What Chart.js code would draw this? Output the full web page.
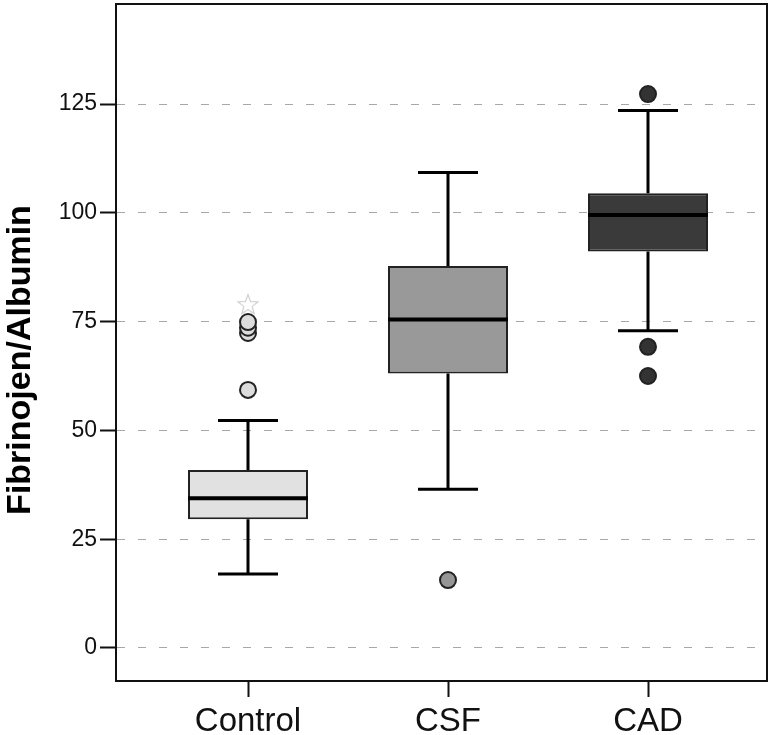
<!DOCTYPE html>
<html>
<head>
<meta charset="utf-8">
<script src="https://cdn.jsdelivr.net/npm/chart.js@4"></script>
<style>
    html, body { margin: 0; padding: 0; background: #fff; }
    canvas { display: block; }
</style>
</head>
<body>
<canvas id="box_chart" width="780" height="735"></canvas>
<script>
// Values
const categories = ['Control', 'CSF', 'CAD'];
const q1 = [29.6, 63.1, 91.1];
const median = [34.4, 75.5, 99.5];
const q3 = [40.9, 87.8, 104.5];
const whiskerLow = [17.0, 36.5, 72.9];
const whiskerHigh = [52.3, 109.3, 123.5];
const outliers = [
    [59.3, 72.4, 73.6, 74.9],
    [15.6],
    [69.2, 62.5, 127.3]
];
const extremes = [[78.8], [], []];
const yTicks = [0, 25, 50, 75, 100, 125];
const yTitle = 'Fibrinojen/Albumin';

const boxFill = ['#e1e1e1', '#999999', '#3a3a3a'];
const dotFill = ['#dcdcdc', '#969696', '#333333'];
const boxWidth = 0.6;   // in category units
const capHalf = 0.15;

// 5 point outline star for the extreme values
function makeStar() {
    let c = document.createElement('canvas');
    c.width = 24; c.height = 24;
    let g = c.getContext('2d');
    g.beginPath();
    for (let k = 0; k < 10; k++) {
        let r = k % 2 == 0 ? 10.5 : 4.4;
        let a = -Math.PI / 2 + k * Math.PI / 5;
        let px = 12 + r * Math.cos(a), py = 12 + r * Math.sin(a);
        if (k == 0) g.moveTo(px, py); else g.lineTo(px, py);
    }
    g.closePath();
    g.strokeStyle = '#d0d0d0';
    g.lineWidth = 1.2;
    g.stroke();
    return c;
}

let boxData = [], whiskerData = [], medianData = [], dots = [], dotColors = [], stars = [];
for (let i = 0; i < categories.length; i++) {
    boxData.push({ x: i, y: [q1[i], q3[i]] });

    whiskerData.push({ x: i, y: q3[i] }, { x: i, y: whiskerHigh[i] }, { x: i, y: null });
    whiskerData.push({ x: i - capHalf, y: whiskerHigh[i] }, { x: i + capHalf, y: whiskerHigh[i] }, { x: i, y: null });
    whiskerData.push({ x: i, y: q1[i] }, { x: i, y: whiskerLow[i] }, { x: i, y: null });
    whiskerData.push({ x: i - capHalf, y: whiskerLow[i] }, { x: i + capHalf, y: whiskerLow[i] }, { x: i, y: null });

    medianData.push({ x: i - boxWidth / 2, y: median[i] }, { x: i + boxWidth / 2, y: median[i] }, { x: i, y: null });

    for (let v of outliers[i]) {
        dots.push({ x: i, y: v });
        dotColors.push(dotFill[i]);
    }
    for (let v of extremes[i]) {
        stars.push({ x: i, y: v });
    }
}

// plot frame on all four sides, plus the y title sitting a bit below centre like the original
const framePlugin = {
    id: 'frame',
    afterDraw(chart) {
        let a = chart.chartArea, ctx = chart.ctx;
        ctx.save();
        ctx.strokeStyle = '#111';
        ctx.lineWidth = 2;
        ctx.strokeRect(a.left, a.top, a.right - a.left, a.bottom - a.top);

        ctx.translate(21, 360);
        ctx.rotate(-Math.PI / 2);
        ctx.font = 'bold 34px "Liberation Sans"';
        ctx.fillStyle = '#000';
        ctx.textAlign = 'center';
        ctx.textBaseline = 'middle';
        ctx.fillText(yTitle, 0, 0);
        ctx.restore();
    }
};

function noEdgePadding(scale) {
    scale.paddingTop = 0;
    scale.paddingBottom = 0;
    scale.paddingLeft = 0;
    scale.paddingRight = 0;
}

let ctx = document.getElementById('box_chart').getContext('2d');
let config = {
    type: 'bar',
    data: {
        datasets: [
            {
                type: 'bar',
                data: boxData,
                backgroundColor: boxFill,
                borderColor: '#222',
                borderWidth: 2,
                borderSkipped: false,
                barPercentage: 1,
                categoryPercentage: boxWidth,
                order: 4
            },
            {
                type: 'line',
                data: whiskerData,
                borderColor: '#000',
                borderWidth: 3,
                pointRadius: 0,
                spanGaps: false,
                tension: 0,
                order: 3
            },
            {
                type: 'line',
                data: medianData,
                borderColor: '#000',
                borderWidth: 4,
                pointRadius: 0,
                spanGaps: false,
                tension: 0,
                order: 2
            },
            {
                type: 'scatter',
                data: dots,
                backgroundColor: dotColors,
                borderColor: '#222',
                borderWidth: 2,
                pointRadius: 8,
                order: 1
            },
            {
                type: 'scatter',
                data: stars,
                pointStyle: makeStar(),
                order: 0
            }
        ]
    },
    options: {
        responsive: false,
        animation: false,
        layout: { autoPadding: false, padding: { top: 4, right: 13, left: 0, bottom: 0 } },
        plugins: {
            legend: { display: false },
            tooltip: { enabled: false }
        },
        scales: {
            x: {
                type: 'linear',
                offset: false,
                min: -0.66,
                max: 2.595,
                afterBuildTicks: (scale) => { scale.ticks = categories.map((c, i) => ({ value: i })); },
                afterFit: (scale) => { scale.height = 54; noEdgePadding(scale); },
                ticks: {
                    callback: (v) => categories[v],
                    color: '#111',
                    padding: 5,
                    maxRotation: 0,
                    font: { family: 'Liberation Sans', size: 33 }
                },
                grid: {
                    offset: false,
                    drawOnChartArea: false,
                    drawTicks: true,
                    tickLength: 16,
                    tickColor: '#111',
                    tickWidth: 2
                },
                border: { display: true, color: '#111', width: 2 }
            },
            y: {
                type: 'linear',
                min: -7.6,
                max: 148,
                afterBuildTicks: (scale) => { scale.ticks = yTicks.map((v) => ({ value: v })); },
                afterFit: (scale) => { scale.width = 116; noEdgePadding(scale); },
                ticks: {
                    color: '#111',
                    padding: 3,
                    font: { family: 'Liberation Sans', size: 23 }
                },
                grid: {
                    color: '#a8a8a8',
                    lineWidth: 1,
                    tickLength: 16,
                    tickColor: '#111',
                    tickWidth: 2
                },
                border: { display: true, color: '#111', width: 2, dash: [8, 13] },
                title: { display: false }
            }
        }
    },
    plugins: [framePlugin]
};

new Chart(ctx, config);
</script>
</body>
</html>
